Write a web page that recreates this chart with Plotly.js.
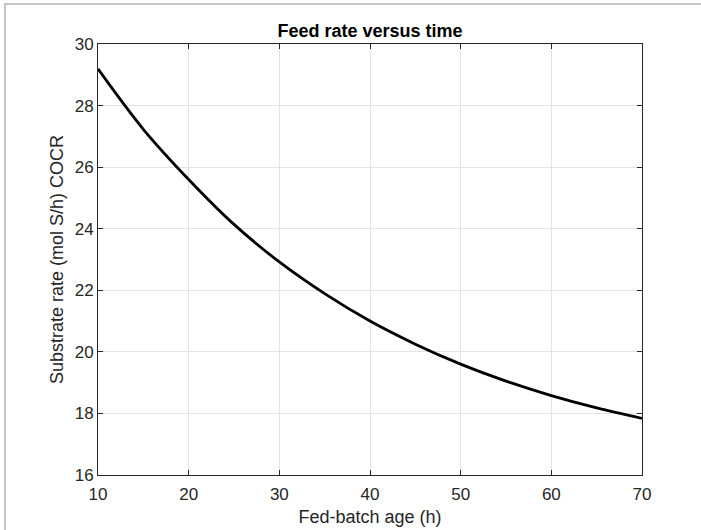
<!DOCTYPE html>
<html>
<head>
<meta charset="utf-8">
<script src="https://cdn.plot.ly/plotly-3.0.1.min.js"></script>
<style>
  html, body { margin: 0; padding: 0; background: #ffffff; }
  #wrap { position: relative; width: 701px; height: 530px; overflow: hidden; }
  #chart { position: absolute; left: 0; top: 0; width: 701px; height: 530px; }
  #frame { position: absolute; left: 4px; top: 3px; width: 720px; height: 560px;
           border-left: 2px solid #c6c6c6; border-top: 2px solid #c6c6c6; pointer-events: none; }
</style>
</head>
<body>
<div id="wrap">
  <div id="chart"></div>
  <div id="frame"></div>
</div>
<script>
// Values
const ageHours = [10, 15, 20, 25, 30, 35, 40, 45, 50, 55, 60, 65, 70];
const substrateRate = [29.19, 27.23, 25.6, 24.14, 22.92, 21.89, 21.0, 20.25, 19.6, 19.05, 18.58, 18.18, 17.84];

const xTicks = [10, 20, 30, 40, 50, 60, 70];
const yTicks = [16, 18, 20, 22, 24, 26, 28, 30];

const chartTitle = 'Feed rate versus time';
const xTitle = 'Fed-batch age (h)';
const yTitle = 'Substrate rate (mol S/h) COCR';

const fontFam = '"Liberation Sans", Arial, Helvetica, sans-serif';
const axisColor = '#262626';

const trace = {
  x: ageHours,
  y: substrateRate,
  type: 'scatter',
  mode: 'lines',
  line: { color: '#000000', width: 2.8, shape: 'spline', smoothing: 1 },
  hoverinfo: 'skip'
};

const axisCommon = {
  showline: true,
  linecolor: axisColor,
  linewidth: 1,
  mirror: 'ticks',
  ticks: 'inside',
  ticklen: 5,
  tickwidth: 1,
  tickcolor: axisColor,
  showgrid: true,
  gridcolor: '#e3e3e3',
  gridwidth: 1,
  zeroline: false,
  tickfont: { family: fontFam, size: 17, color: axisColor },
  tickmode: 'array'
};

const layout = {
  width: 701,
  height: 530,
  paper_bgcolor: '#ffffff',
  plot_bgcolor: '#ffffff',
  showlegend: false,
  margin: { l: 97.5, r: 59, t: 44, b: 55, pad: 0 },
  title: {
    text: '<b>' + chartTitle + '</b>',
    font: { family: fontFam, size: 18, color: '#000000' },
    x: 0.5, xref: 'paper', xanchor: 'center',
    y: 1 - 31 / 530, yref: 'container', yanchor: 'middle'
  },
  xaxis: Object.assign({}, axisCommon, {
    range: [10, 70],
    tickvals: xTicks,
    ticktext: xTicks.map(String),
    ticklabelstandoff: 4,
    title: { text: xTitle, font: { family: fontFam, size: 18, color: axisColor }, standoff: 6 }
  }),
  yaxis: Object.assign({}, axisCommon, {
    range: [16, 30],
    tickvals: yTicks,
    ticktext: yTicks.map(String),
    title: { text: yTitle, font: { family: fontFam, size: 18, color: axisColor }, standoff: 6 }
  })
};

Plotly.newPlot('chart', [trace], layout, { displayModeBar: false, staticPlot: true });
</script>
</body>
</html>
